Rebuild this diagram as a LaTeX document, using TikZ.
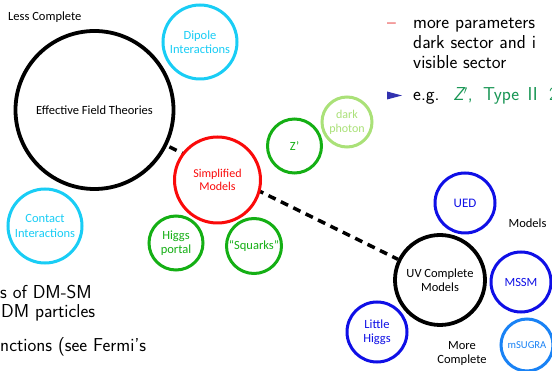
\documentclass[tikz,border=0pt]{standalone}
\usepackage{fontspec}
\setmainfont{Carlito}
\begin{document}
\definecolor{ringcyan}{RGB}{25,205,245}
\definecolor{ringred}{RGB}{250,10,10}
\definecolor{ringgreen}{RGB}{20,175,20}
\definecolor{ringlight}{RGB}{170,225,120}
\definecolor{ringblue}{RGB}{15,15,230}
\definecolor{ringsky}{RGB}{25,130,245}
\definecolor{dashred}{RGB}{235,90,90}
\definecolor{itemblue}{RGB}{50,50,175}
\definecolor{examplegreen}{RGB}{25,150,85}
\newcommand\labfont{\fontsize{12.5}{14.5}\selectfont}
\newcommand\slidefont{\sffamily\fontsize{18.7}{20}\selectfont}
\begin{tikzpicture}[x=1pt,y=-1pt,
  ring/.style={circle, draw=#1, line width=3pt, fill=white, inner sep=0pt,
               align=center, text=#1, font=\labfont},
  bigring/.style={circle, draw=black, line width=3.8pt, fill=white, inner sep=0pt,
               align=center, font=\labfont},
  plain/.style={inner sep=0pt, font=\labfont, align=center},
  slide/.style={inner sep=0pt, font=\slidefont, anchor=base west}]
\useasboundingbox (0,0) rectangle (552,371);
\clip (0,0) rectangle (552,371);

% background slide text
\node[slide, text=dashred] (dash) at (387,28.3) {--};
\node[slide] (s1) at (413,28.3) {more parameters};
\node[slide] (s2) at (413,48.3) {dark sector and i};
\node[slide] (s3) at (413,68.5) {visible sector};
\fill[itemblue] (387,91.5) -- (402,95.5) -- (387,99.5) -- cycle;
\node[slide] (s4) at (413,100.7) {e.g.};
\node[slide, text=examplegreen] (s4z) at (453,100.7) {\itshape Z\upshape$'$,};
\node[slide, text=examplegreen] (s4t) at (483,100.7) {Type\hspace{0.45em}II};
\node[slide, text=examplegreen] (s4h) at (549,100.7) {2HDM};
\node[slide] (s5) at (0,299) {s of DM-SM};
\node[slide] (s6) at (1,318) {DM particles};
\node[slide] (s7) at (0,352) {nctions (see Fermi's};

% the two main theory classes and the link between them
\node[bigring, minimum size=158pt] (eft) at (94.5,110) {Effective Field Theories};
\node[bigring, minimum size=90pt] (uv) at (440,280) {UV Complete\\Models};
\draw[line width=3.5pt, dash pattern=on 8pt off 5.8pt, dash phase=11.2pt] (eft) -- (uv);

% EFT operators
\node[ring=ringcyan, minimum size=74pt] (dip) at (200,42) {Dipole\\Interactions};
\node[ring=ringcyan, minimum size=74pt] (con) at (45,226) {Contact\\Interactions};

% simplified models
\node[ring=ringred, minimum size=86pt, font=\fontsize{12}{13.5}\selectfont] (sim) at (217.5,180) {Simplified\\Models};
\node[ring=ringgreen, minimum size=54pt] (zp) at (294.5,146) {Z'};
\node[ring=ringlight, minimum size=50pt, font=\fontsize{12}{14}\selectfont] (dph) at (347,122) {dark\\photon};
\node[ring=ringgreen, minimum size=54pt] (hp) at (176,243) {Higgs\\portal};
\node[ring=ringgreen, minimum size=55pt] (sq) at (254,246) {“Squarks”};

% UV complete models
\node[ring=ringblue, minimum size=60pt, font=\fontsize{13}{15}\selectfont] (ued) at (465,203) {UED};
\node[ring=ringblue, minimum size=60pt] (mssm) at (521,282) {MSSM};
\node[ring=ringblue, minimum size=60pt] (lh) at (377,332) {Little\\Higgs};
\node[ring=ringsky, minimum size=52pt, font=\fontsize{10.6}{12}\selectfont] (msugra) at (527,345) {mSUGRA};

% axis captions
\node[plain, anchor=base west] (less) at (8,20.7) {Less Complete};
\node[plain] (mods) at (527.5,223) {Models};
\node[plain] (more) at (462,353.5) {More\\Complete};
\end{tikzpicture}
\end{document}
